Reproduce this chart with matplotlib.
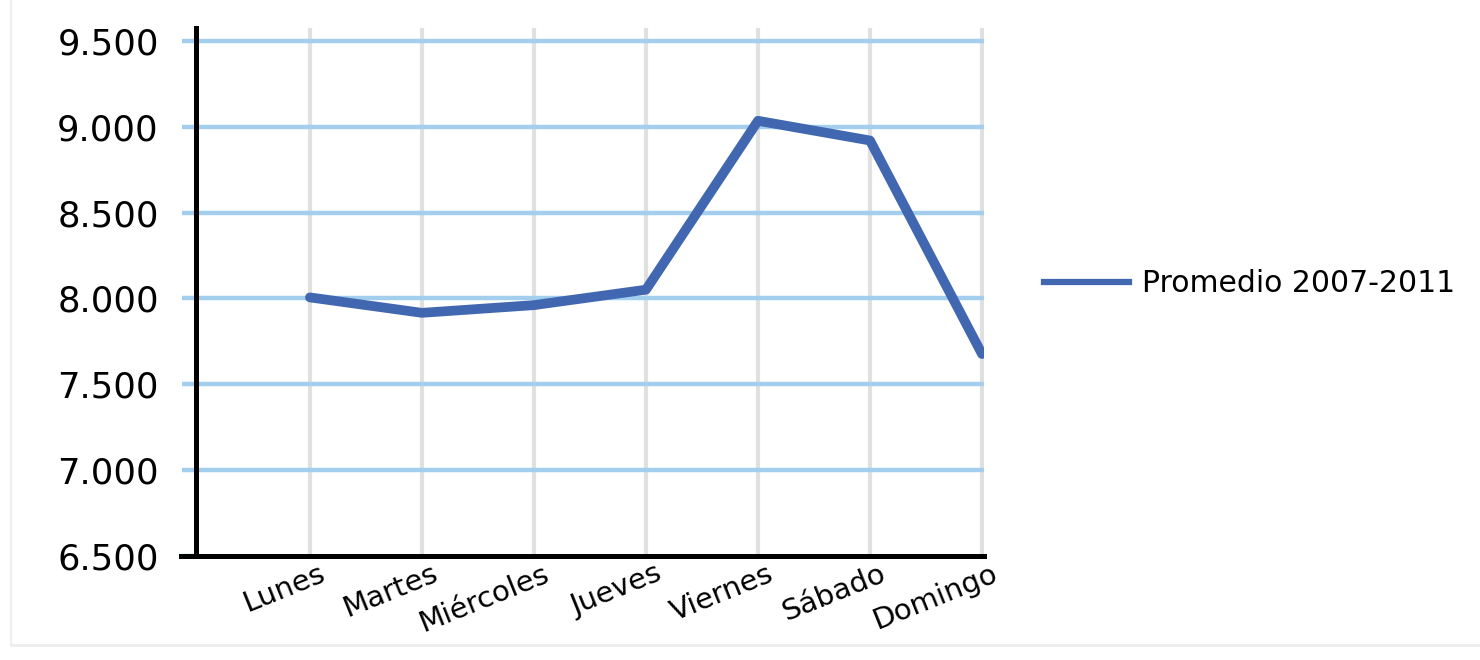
import matplotlib
matplotlib.use("Agg")
import matplotlib.pyplot as plt
from matplotlib.lines import Line2D
from matplotlib.ticker import FuncFormatter
import matplotlib.transforms as mtrans

# data
dias = ["Lunes", "Martes", "Miércoles", "Jueves", "Viernes", "Sábado", "Domingo"]
promedio = [8005, 7915, 7960, 8050, 9035, 8920, 7675]
serie = "Promedio 2007-2011"
yticks = [6500, 7000, 7500, 8000, 8500, 9000, 9500]

BLUE = "#4167B1"; GRID_H = "#A3CEEE"; GRID_V = "#E0E0E0"
plt.rcParams["font.family"] = ["DejaVu Sans"]

fig = plt.figure(figsize=(14.8, 6.6), dpi=100)
ax = fig.add_axes([195.5/1480, 1-555.5/660, (984-195.5)/1480, (555.5-28)/660])
xs = list(range(1, len(dias)+1))
ax.plot(xs, promedio, color=BLUE, lw=7, solid_capstyle="round", solid_joinstyle="round", zorder=4)

ax.set_xlim(-0.022, 7.018); ax.set_ylim(6500, 9576)
ax.set_yticks(yticks)
ax.yaxis.set_major_formatter(FuncFormatter(lambda v, p: f"{v:,.0f}".replace(",", ".")))
ax.set_xticks(xs); ax.set_xticklabels(dias)

for y in yticks[1:]:
    ax.axhline(y, color=GRID_H, lw=3.2, zorder=2)
for x in xs:
    ax.axvline(x, color=GRID_V, lw=3.0, zorder=1)

for s in ("top", "right"): ax.spines[s].set_visible(False)
ax.spines["left"].set_linewidth(3.6); ax.spines["bottom"].set_linewidth(3.6)
ax.spines["left"].set_zorder(5); ax.spines["bottom"].set_zorder(5)
ax.spines["bottom"].set_bounds(-0.15, 7.018)

ax.tick_params(axis="y", length=10.4, width=3.2, color=GRID_H, pad=16, labelsize=25.5)
ax.tick_params(axis="x", length=0, pad=3, labelsize=21)
off = mtrans.ScaledTranslation(9/100, 0, fig.dpi_scale_trans)
for lab in ax.get_xticklabels():
    lab.set_rotation(22); lab.set_ha("right"); lab.set_va("top")
    lab.set_rotation_mode("anchor"); lab.set_transform(lab.get_transform()+off)

h = Line2D([], [], color=BLUE, lw=4.5)
fs = 21.5
fig.legend([h], [serie], loc="center left", bbox_to_anchor=(1044/1480, 1-284/660),
           frameon=False, fontsize=fs, handlelength=85/(fs*100/72), handletextpad=13/(fs*100/72),
           borderpad=0, borderaxespad=0)

# faint chart frame (left and bottom)
fig.add_artist(Line2D([11/1480, 11/1480], [1-645/660, 1], color="#EEEEEE", lw=1.6))
fig.add_artist(Line2D([11/1480, 1], [1-645/660, 1-645/660], color="#EEEEEE", lw=2.2))

fig.savefig("out.png", dpi=100)
